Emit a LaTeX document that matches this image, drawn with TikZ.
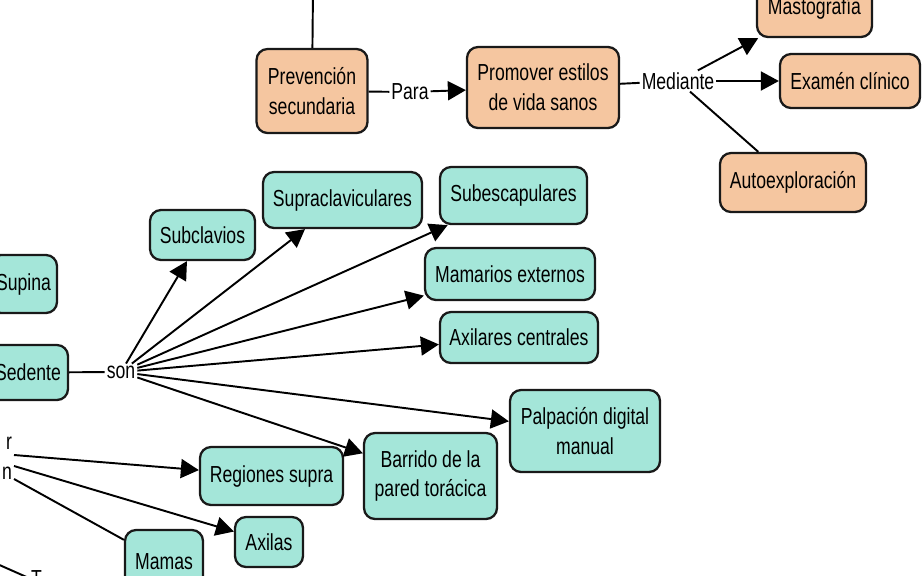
\documentclass[tikz,border=0pt]{standalone}
\usepackage{fontspec}
\setmainfont{Liberation Sans}[FakeStretch=0.76]
\usepackage{tikz}
\usetikzlibrary{arrows.meta,shapes}

\definecolor{peach}{HTML}{F5C6A0}
\definecolor{aqua}{HTML}{A4E6D9}

\tikzset{
	concept/.style={draw=black!90, line width=1.3pt, rounded corners=0.22cm, align=center, inner sep=2pt, text=black, font=\fontsize{13.2}{17}\selectfont},
	salmonbox/.style={concept, fill=peach},
	aquabox/.style={concept, fill=aqua},
	linkword/.style={inner sep=1pt, fill=white, text=black, font=\fontsize{13.2}{17}\selectfont},
	conn/.style={line width=1.1pt, black},
	arr/.style={conn, -{Triangle[length=0.36cm,width=0.38cm]}}
}

\begin{document}
\begin{tikzpicture}[x=0.02cm, y=-0.02cm]
	\useasboundingbox (0,0) rectangle (922,575);
	\fill [white] (0,0) rectangle (922,575);
	\clip (0,0) rectangle (922,575);

	% upper branch
	\node [salmonbox, minimum width=2.22cm, minimum height=1.68cm] (prev) at (312,91) {Prevención\\secundaria};
	\node [salmonbox, minimum width=3.04cm, minimum height=1.62cm] (prom) at (543,87.5) {Promover estilos\\de vida sanos};
	\node [salmonbox, minimum width=2.30cm, minimum height=1.16cm] (masto) at (814.5,8) {Mastografía};
	\node [salmonbox, minimum width=2.80cm, minimum height=1.08cm] (exam) at (850,81) {Examén clínico};
	\node [salmonbox, minimum width=2.92cm, minimum height=1.18cm] (auto) at (793,182.5) {Autoexploración};
	\node [linkword] (para) at (410,92) {Para};
	\node [linkword] (med) at (678,81) {Mediante};
	\coordinate (top) at (313,-10);

	\draw [conn] (top) -- (prev);
	\draw [conn] (prev) -- (para);
	\draw [arr] (para) -- (prom);
	\draw [conn] (prom) -- (med);
	\draw [arr] (med) -- (masto);
	\draw [arr] (med) -- (exam);
	\draw [conn] (med) -- (auto);

	% lower branch
	\node [aquabox, minimum width=1.34cm, minimum height=1.16cm] (supina) at (23.5,284) {Supina};
	\node [aquabox, minimum width=1.60cm, minimum height=1.10cm] (sed) at (28,372.5) {Sedente};
	\node [aquabox, minimum width=2.10cm, minimum height=1.00cm] (subcl) at (202.5,235) {Subclavios};
	\node [aquabox, minimum width=3.18cm, minimum height=1.12cm] (supra) at (342.5,200) {Supraclaviculares};
	\node [aquabox, minimum width=2.94cm, minimum height=1.14cm] (subesc) at (513.5,195.5) {Subescapulares};
	\node [aquabox, minimum width=3.40cm, minimum height=1.04cm] (mamext) at (510,274) {Mamarios externos};
	\node [aquabox, minimum width=3.16cm, minimum height=1.02cm] (axcen) at (519,337.5) {Axilares centrales};
	\node [aquabox, minimum width=3.00cm, minimum height=1.64cm] (palp) at (585,431) {Palpación digital\\manual};
	\node [aquabox, minimum width=2.66cm, minimum height=1.72cm] (barr) at (430.5,476) {Barrido de la\\pared torácica};
	\node [aquabox, minimum width=2.86cm, minimum height=1.16cm] (regs) at (271.5,476) {Regiones supra};
	\node [aquabox, minimum width=1.36cm, minimum height=1.00cm] (axilas) at (269,542) {Axilas};
	\node [aquabox, minimum width=1.56cm, minimum height=1.28cm] (mamas) at (164,562) {Mamas};
	\node [linkword] (son) at (121,372) {son};
	\node [linkword, align=right, anchor=east] (rn) at (14,458) {r\\n};
	\node [linkword, anchor=north west] (tword) at (29,568) {T};
	\coordinate (tin) at (-5,563);

	\draw [conn] (sed) -- (son);
	\draw [arr] (son) -- (subcl);
	\draw [arr] (son) -- (supra);
	\draw [arr] (son) -- (subesc);
	\draw [arr] (son) -- (mamext);
	\draw [arr] (son) -- (axcen);
	\draw [arr] (son) -- (palp);
	\draw [arr] (son) -- (barr);
	\draw [arr] ([yshift=0.06cm]rn.east) -- (regs);
	\draw [arr] ([yshift=-0.16cm]rn.east) -- (axilas);
	\draw [conn] ([yshift=-0.42cm]rn.east) -- (mamas);
	\draw [conn] (tin) -- (tword.west);
\end{tikzpicture}
\end{document}
